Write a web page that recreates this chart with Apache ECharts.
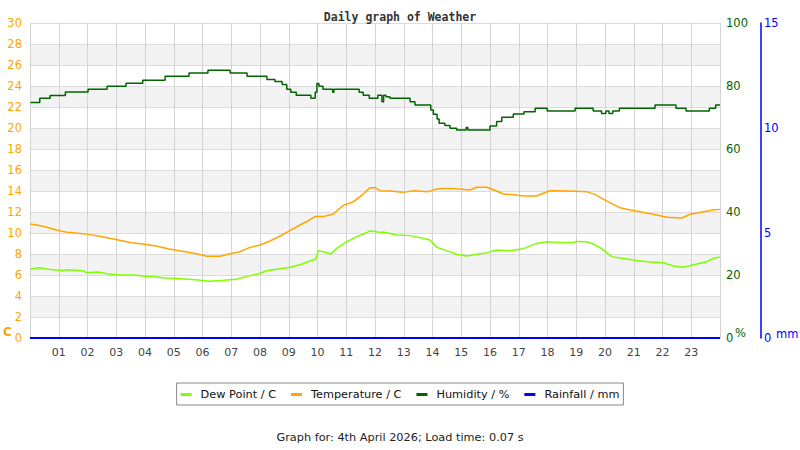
<!DOCTYPE html>
<html>
<head>
<meta charset="utf-8">
<script src="https://cdn.jsdelivr.net/npm/echarts@6/dist/echarts.min.js"></script>
<style>html,body{margin:0;padding:0;background:#fff}#c{width:800px;height:450px}</style>
</head>
<body>
<div id="c"></div>
<script>
const hourTicks = ['01','02','03','04','05','06','07','08','09','10','11','12','13','14','15','16','17','18','19','20','21','22','23'];
const tempTicks = [0,2,4,6,8,10,12,14,16,18,20,22,24,26,28,30];
const humTicks = [0,20,40,60,80,100];
const rainTicks = [0,5,10,15];

const dewPoint = [[0.02,6.57],[0.34,6.70],[0.63,6.54],[1.09,6.44],[1.32,6.50],[1.84,6.41],[1.96,6.22],[2.37,6.28],[2.71,6.10],[3.12,6.00],[3.64,6.00],[3.99,5.87],[4.34,5.84],[4.69,5.71],[5.03,5.68],[5.50,5.59],[5.84,5.52],[6.26,5.40],[6.72,5.49],[7.19,5.59],[7.54,5.87],[7.94,6.10],[8.23,6.41],[8.70,6.60],[9.04,6.73],[9.39,6.98],[9.74,7.33],[9.94,7.52],[10.03,8.32],[10.26,8.16],[10.46,8.00],[10.67,8.54],[11.02,9.17],[11.36,9.65],[11.71,10.03],[11.83,10.22],[12.17,10.06],[12.29,10.10],[12.75,9.81],[13.22,9.75],[13.57,9.56],[13.91,9.33],[14.15,8.63],[14.49,8.32],[14.84,7.97],[15.19,7.81],[15.54,7.97],[15.89,8.13],[16.23,8.38],[16.70,8.32],[17.16,8.51],[17.62,9.01],[17.97,9.17],[18.43,9.10],[18.90,9.10],[19.01,9.20],[19.36,9.17],[19.59,8.95],[19.83,8.60],[20.06,8.13],[20.23,7.75],[20.52,7.62],[20.98,7.43],[21.45,7.27],[22.03,7.17],[22.38,6.86],[22.72,6.73],[23.19,7.05],[23.54,7.27],[23.77,7.59],[24.0,7.71]];

const temperature = [[0.02,10.86],[0.37,10.70],[0.69,10.48],[0.91,10.29],[1.30,10.06],[1.84,9.94],[2.37,9.71],[2.77,9.49],[3.12,9.30],[3.52,9.08],[3.99,8.92],[4.39,8.76],[4.80,8.51],[5.09,8.35],[5.50,8.16],[5.84,8.00],[6.15,7.78],[6.61,7.78],[6.96,8.03],[7.30,8.22],[7.65,8.63],[8.00,8.86],[8.35,9.24],[8.70,9.71],[9.04,10.22],[9.39,10.76],[9.68,11.17],[9.91,11.56],[10.20,11.56],[10.55,11.81],[10.90,12.63],[11.25,12.98],[11.59,13.71],[11.83,14.32],[12.00,14.32],[12.17,14.03],[12.52,14.00],[12.98,13.87],[13.33,14.03],[13.85,13.94],[14.15,14.19],[14.61,14.25],[15.02,14.16],[15.30,14.10],[15.54,14.35],[15.89,14.35],[16.23,14.00],[16.46,13.71],[16.81,13.65],[17.16,13.52],[17.62,13.52],[17.85,13.78],[18.09,14.03],[18.78,14.00],[19.36,13.94],[19.65,13.68],[19.89,13.30],[20.17,12.89],[20.52,12.41],[20.87,12.19],[21.22,12.03],[21.68,11.78],[22.15,11.49],[22.67,11.43],[22.96,11.78],[23.42,12.03],[23.77,12.19],[24.0,12.25]];

const humidity = [[0.02,74.8],[0.34,76.1],[0.70,77.0],[1.23,78.1],[2.02,79.0],[2.68,79.9],[3.34,80.9],[3.92,81.8],[4.70,83.1],[5.53,84.1],[6.19,85.0],[6.96,84.1],[7.55,83.1],[8.24,82.1],[8.52,81.4],[8.77,80.5],[8.93,79.0],[9.07,78.0],[9.26,77.1],[9.77,76.1],[9.92,78.0],[9.98,80.8],[10.05,79.9],[10.19,79.0],[10.53,78.0],[10.57,79.0],[11.45,78.0],[11.59,77.1],[11.80,76.1],[12.10,77.1],[12.24,75.0],[12.30,77.1],[12.38,76.6],[12.52,76.1],[13.22,75.0],[13.39,74.0],[13.94,72.4],[14.03,71.0],[14.16,69.5],[14.23,68.2],[14.43,67.5],[14.61,66.6],[14.84,66.0],[15.17,66.8],[15.23,66.0],[16.00,67.3],[16.23,68.7],[16.41,70.1],[16.81,71.1],[17.18,71.8],[17.57,72.9],[17.99,72.1],[18.96,72.9],[19.59,72.1],[19.88,71.3],[20.03,72.1],[20.14,71.3],[20.27,72.1],[20.50,72.9],[21.74,74.0],[22.47,72.9],[22.82,72.1],[23.63,72.9],[23.85,74.0],[24.0,74.0]];

const rainfall = [[0,0],[24,0]];

const FONT = 'DejaVu Sans';
const chart = echarts.init(document.getElementById('c'), null, {renderer: 'svg'});
chart.setOption({
  animation: false,
  backgroundColor: '#fff',
  title: {
    text: 'Daily graph of Weather', left: 'center', top: 6,
    textStyle: {fontFamily: 'DejaVu Sans Mono', fontWeight: 'bold', fontSize: 11.5, color: '#333'}
  },
  legend: {
    left: 'center', top: 383, orient: 'horizontal',
    borderColor: '#888', borderWidth: 1, padding: [6, 4, 5, 4],
    itemWidth: 11, itemHeight: 3, itemGap: 15, icon: 'rect',
    textStyle: {fontFamily: FONT, fontSize: 11.3, color: '#111', padding: [0, 0, 0, 4]},
    data: ['Dew Point / C', 'Temperature / C', 'Humidity / %', 'Rainfall / mm']
  },
  grid: {left: 30, right: 80, top: 23, bottom: 112, containLabel: false},
  xAxis: {
    type: 'value', min: 0, max: 24, interval: 1,
    axisLine: {show: true, lineStyle: {color: '#ccc'}},
    axisTick: {show: false},
    axisLabel: {
      margin: 9, fontFamily: FONT, fontSize: 11, color: '#444',
      formatter: function (v) { return (v >= 1 && v <= 23) ? hourTicks[v - 1] : ''; }
    },
    splitLine: {show: true, lineStyle: {color: '#d3d3d3', width: 1}}
  },
  yAxis: [
    {
      type: 'value', min: tempTicks[0], max: tempTicks[tempTicks.length - 1], interval: 2, position: 'left',
      axisLine: {show: false}, axisTick: {show: false},
      axisLabel: {margin: 8, fontFamily: FONT, fontSize: 11.5, color: '#ffa500'},
      splitLine: {show: true, lineStyle: {color: '#dcdcdc', width: 1}},
      splitArea: {show: true, areaStyle: {color: ['#ffffff', '#f3f3f3']}}
    },
    {
      type: 'value', min: humTicks[0], max: humTicks[humTicks.length - 1], interval: 20, position: 'right',
      axisLine: {show: false}, axisTick: {show: false},
      axisLabel: {margin: 6, fontFamily: FONT, fontSize: 11.5, color: '#006400'},
      splitLine: {show: false}
    },
    {
      type: 'value', min: rainTicks[0], max: rainTicks[rainTicks.length - 1], interval: 5, position: 'right', offset: 41,
      axisLine: {show: true, lineStyle: {color: '#0000ff', width: 1.5}}, axisTick: {show: false},
      axisLabel: {margin: 3, fontFamily: FONT, fontSize: 11.5, color: '#0000ff'},
      splitLine: {show: false}
    }
  ],
  graphic: [
    {type: 'text', left: 3, top: 326, style: {text: 'C', font: 'bold 12px "DejaVu Sans"', fill: '#ffa500'}},
    {type: 'text', left: 735, top: 327, style: {text: '%', font: '11.5px "DejaVu Sans"', fill: '#006400'}},
    {type: 'text', left: 776, top: 328, style: {text: 'mm', font: '11.5px "DejaVu Sans"', fill: '#0000ff'}},
    {type: 'text', left: 'center', top: 432, style: {text: 'Graph for: 4th April 2026; Load time: 0.07 s', font: '11.3px "DejaVu Sans"', fill: '#222'}}
  ],
  series: [
    {name: 'Dew Point / C', type: 'line', yAxisIndex: 0, data: dewPoint, showSymbol: false, color: '#7fff00', lineStyle: {width: 1.5}},
    {name: 'Temperature / C', type: 'line', yAxisIndex: 0, data: temperature, showSymbol: false, color: '#ffa500', lineStyle: {width: 1.5}},
    {name: 'Humidity / %', type: 'line', yAxisIndex: 1, data: humidity, step: 'end', showSymbol: false, color: '#006400', lineStyle: {width: 1.5}},
    {name: 'Rainfall / mm', type: 'line', yAxisIndex: 2, data: rainfall, showSymbol: false, color: '#0000ff', lineStyle: {width: 2}}
  ]
});
</script>
</body>
</html>
